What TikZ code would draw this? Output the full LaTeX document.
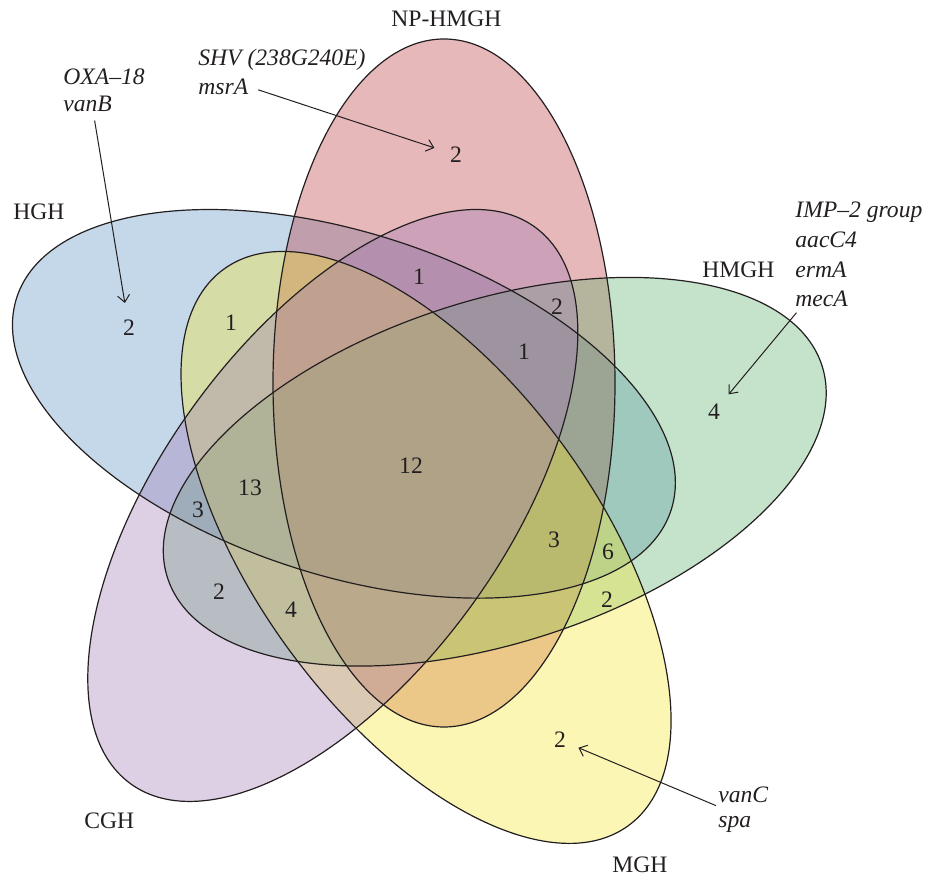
\documentclass[tikz,border=0pt]{standalone}
\usepackage{fontspec}
\setmainfont{Liberation Serif}
\usetikzlibrary{arrows.meta}
\definecolor{hghblue}{RGB}{89,143,192}
\definecolor{nphred}{RGB}{184,52,58}
\definecolor{hmgreen}{RGB}{89,175,106}
\definecolor{mghyellow}{RGB}{244,229,40}
\definecolor{cghpurple}{RGB}{158,120,181}
\definecolor{ink}{RGB}{35,31,32}
\tikzset{
  >={Straight Barb[length=3.5pt,width=6pt]},
  setname/.style={font=\fontsize{11.8}{14}\selectfont,text=ink,anchor=base west,inner sep=1pt},
  count/.style={font=\fontsize{11.8}{14}\selectfont,text=ink,inner sep=1pt},
  gene/.style={font=\fontsize{11.8}{14}\selectfont\itshape,text=ink,anchor=base west,inner sep=1pt},
  pointer/.style={->,draw=ink,line width=0.5pt},
  outline/.style={draw=ink,line width=0.6pt},
}
\begin{document}
\begin{tikzpicture}[x=0.5pt,y=0.5pt]
  \useasboundingbox (0,0) rectangle (925,877);
  % five rotated sets, back to front
  \foreach \ang/\col in {72/hghblue,0/nphred,288/hmgreen,216/mghyellow,144/cghpurple}
    \fill[\col,fill opacity=0.35,rotate around={\ang:(408.3,414.7)}] (444,494) ellipse (85.5pt and 172pt);
  \foreach \ang in {72,0,288,216,144}
    \draw[outline,rotate around={\ang:(408.3,414.7)}] (444,494) ellipse (85.5pt and 172pt);

  % set names
  \node[setname] (np) at (389,850) {NP-HMGH};
  \node[setname] (hgh) at (11,657) {HGH};
  \node[setname] (hmgh) at (700,599) {HMGH};
  \node[setname] (cgh) at (82,48) {CGH};
  \node[setname] (mgh) at (610,4) {MGH};

  % counts
  \node[count] (n2r) at (456,722) {2};
  \node[count] (n2b) at (129,549) {2};
  \node[count] (n4g) at (714,465) {4};
  \node[count] (n2y) at (560,137) {2};
  \node[count] (n1a) at (231,554) {1};
  \node[count] (n1b) at (419,600) {1};
  \node[count] (n2c) at (557,570) {2};
  \node[count] (n1c) at (524,525) {1};
  \node[count] (n12) at (411,411) {12};
  \node[count] (n3a) at (554,337) {3};
  \node[count] (n6) at (608,325) {6};
  \node[count] (n2d) at (607,277) {2};
  \node[count] (n13) at (250,389) {13};
  \node[count] (n3b) at (198,367) {3};
  \node[count] (n2e) at (219,285) {2};
  \node[count] (n4b) at (291,267) {4};

  % genes
  \node[gene] (oxa) at (61,792) {OXA\textendash18};
  \node[gene] (vanb) at (61,765) {vanB};
  \node[gene] (shv) at (196,811) {SHV (238G240E)};
  \node[gene] (msra) at (196,782) {msrA};
  \node[gene] (imp) at (793,659) {IMP\textendash2 group};
  \node[gene] (aac) at (793,629) {aacC4};
  \node[gene] (erm) at (793,599) {ermA};
  \node[gene] (meca) at (793,570) {mecA};
  \node[gene] (vanc) at (716,74) {vanC};
  \node[gene] (spa) at (716,49) {spa};

  \draw[pointer,shorten <=3pt,shorten >=7.5pt] ([xshift=3pt]vanb.south) -- (n2b);
  \draw[pointer,shorten <=4pt,shorten >=7pt] (msra.east) -- (n2r);
  \draw[pointer,shorten <=2pt,shorten >=5pt] ([xshift=3pt]meca.south west) -- (n4g);
  \draw[pointer,shorten >=5.5pt] (vanc.south west) -- (n2y);
\end{tikzpicture}
\end{document}
